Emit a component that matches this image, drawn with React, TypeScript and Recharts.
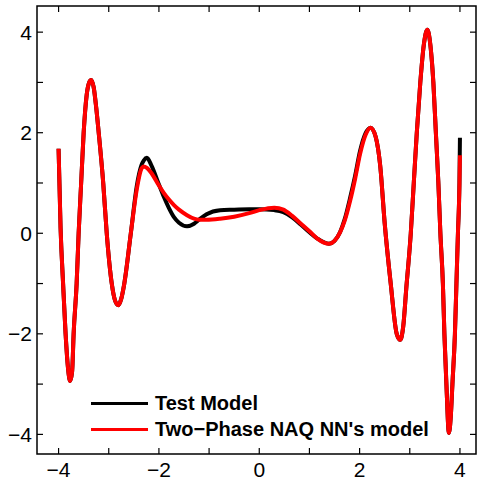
import React from "react";
import { Line, LineChart, ReferenceArea, XAxis, YAxis } from "recharts";

const xs = [
  -4.0, -3.96, -3.91, -3.86, -3.81, -3.77, -3.73, -3.7, -3.64, -3.6, -3.55, -3.5, -3.44,
  -3.39, -3.35, -3.3, -3.25, -3.2, -3.11, -3.04, -2.94, -2.87, -2.81, -2.75, -2.69, -2.56,
  -2.44, -2.35, -2.3, -2.24, -2.15, -2.0, -1.9, -1.8, -1.7, -1.6, -1.44, -1.3, -1.2, -1.05,
  -0.78, -0.5, -0.2, 0.0, 0.3, 0.48, 0.65, 0.82, 1.0, 1.15, 1.39, 1.5, 1.61, 1.7, 1.81, 1.91,
  2.01, 2.12, 2.22, 2.32, 2.41, 2.5, 2.62, 2.74, 2.81, 2.87, 2.93, 3.02, 3.08, 3.14, 3.21,
  3.28, 3.35, 3.41, 3.47, 3.52, 3.57, 3.61, 3.66, 3.69, 3.73, 3.78, 3.82, 3.85, 3.9, 3.93,
  3.96, 3.99, 4.0,
];

const testModel = [
  1.68, 0.1, -1.0, -2.0, -2.7, -2.94, -2.75, -2.0, -1.0, 0.0, 1.0, 2.0, 2.75,
  3.0, 3.05, 2.9, 2.5, 2.0, 1.0, 0.0, -1.0, -1.35, -1.43, -1.3, -1.0, 0.0,
  0.95, 1.35, 1.45, 1.5, 1.35, 0.97, 0.72, 0.5, 0.32, 0.21, 0.14, 0.19, 0.27, 0.38,
  0.46, 0.47, 0.48, 0.48, 0.46, 0.42, 0.32, 0.18, 0.02, -0.1, -0.21, -0.15, 0.02, 0.27, 0.7, 1.14,
  1.64, 1.99, 2.1, 1.92, 1.35, 0.2, -1.0, -2.0, -2.12, -1.85, -1.1, 0.0, 1.0, 2.0, 3.0,
  3.75, 4.05, 3.75, 3.0, 2.0, 1.0, 0.0, -1.0, -2.0, -3.0, -3.97, -3.6, -3.0, -2.0, -1.0,
  0.0, 1.0, 1.9,
];

const naqModel = [
  1.68, 0.1, -1.0, -2.0, -2.7, -2.94, -2.75, -2.0, -1.0, 0.0, 1.0, 2.0, 2.75,
  3.0, 3.05, 2.9, 2.5, 2.0, 1.0, 0.0, -1.0, -1.35, -1.43, -1.3, -1.0, 0.0,
  0.88, 1.28, 1.33, 1.3, 1.2, 0.95, 0.8, 0.67, 0.56, 0.47, 0.36, 0.29, 0.27, 0.27,
  0.29, 0.33, 0.4, 0.46, 0.51, 0.47, 0.35, 0.2, 0.04, -0.1, -0.21, -0.15, 0.02, 0.24, 0.64, 1.08,
  1.58, 1.96, 2.1, 1.92, 1.35, 0.2, -1.0, -2.0, -2.12, -1.85, -1.1, 0.0, 1.0, 2.0, 3.0,
  3.75, 4.05, 3.75, 3.0, 2.0, 1.0, 0.0, -1.0, -2.0, -3.0, -3.97, -3.6, -3.0, -2.0, -1.0,
  0.0, 0.95, 1.55,
];

const xTicks = [-4, -3, -2, -1, 0, 1, 2, 3, 4];
const yTicks = [-4, -3, -2, -1, 0, 1, 2, 3, 4];
const seriesNames = ["Test Model", "Two\u2212Phase NAQ NN's model"];
const seriesColors = ["#000000", "#ff0000"];

const X_DOMAIN: [number, number] = [-4.43, 4.32];
const Y_DOMAIN: [number, number] = [-4.39, 4.52];

const W = 480;
const H = 480;
const M = { top: 6, right: 4, left: 0, bottom: 0 };
const Y_AXIS_W = 37;
const X_AXIS_H = 26;
const PLOT_TOP = M.top;
const PLOT_RIGHT = W - M.right;
const TICK = 6;
const FONT = "'Liberation Sans', Arial, sans-serif";

const data = xs.map((x, i) => ({ x, test: testModel[i], naq: naqModel[i] }));

const fmt = (v: number) => (v < 0 ? `\u2212${Math.abs(v)}` : `${v}`);

function XTick(props: any) {
  const { x, y, payload } = props;
  const v = payload.value as number;
  return (
    <g>
      <line x1={x} x2={x} y1={y} y2={y - TICK} stroke="#000" strokeWidth={1.2} />
      <line x1={x} x2={x} y1={PLOT_TOP} y2={PLOT_TOP + TICK} stroke="#000" strokeWidth={1.2} />
      {v % 2 === 0 && (
        <text x={x} y={y + 23} textAnchor="middle" fontSize={21} fontFamily={FONT} fill="#000">
          {fmt(v)}
        </text>
      )}
    </g>
  );
}

function YTick(props: any) {
  const { x, y, payload } = props;
  const v = payload.value as number;
  return (
    <g>
      <line x1={x} x2={x + TICK} y1={y} y2={y} stroke="#000" strokeWidth={1.2} />
      <line x1={PLOT_RIGHT} x2={PLOT_RIGHT - TICK} y1={y} y2={y} stroke="#000" strokeWidth={1.2} />
      {v % 2 === 0 && (
        <text x={x - 5} y={y + 7.5} textAnchor="end" fontSize={21} fontFamily={FONT} fill="#000">
          {fmt(v)}
        </text>
      )}
    </g>
  );
}

export default function App() {
  return (
    <div style={{ position: "absolute", left: 0, top: 0, width: W, height: H, background: "#fff" }}>
      <LineChart width={W} height={H} data={data} margin={M}>
        <XAxis
          dataKey="x"
          type="number"
          domain={X_DOMAIN}
          ticks={xTicks}
          allowDataOverflow
          axisLine={false}
          tickLine={false}
          tickSize={0}
          tickMargin={0}
          height={X_AXIS_H}
          tick={<XTick />}
          interval={0}
        />
        <YAxis
          type="number"
          domain={Y_DOMAIN}
          ticks={yTicks}
          allowDataOverflow
          axisLine={false}
          tickLine={false}
          tickSize={0}
          tickMargin={0}
          width={Y_AXIS_W}
          tick={<YTick />}
          interval={0}
        />
        <ReferenceArea
          x1={X_DOMAIN[0]}
          x2={X_DOMAIN[1]}
          y1={Y_DOMAIN[0]}
          y2={Y_DOMAIN[1]}
          fill="none"
          stroke="#000"
          strokeWidth={1.5}
          fillOpacity={0}
        />
        <Line
          dataKey="test"
          type="monotone"
          stroke={seriesColors[0]}
          strokeWidth={4}
          dot={false}
          isAnimationActive={false}
        />
        <Line
          dataKey="naq"
          type="monotone"
          stroke={seriesColors[1]}
          strokeWidth={4}
          dot={false}
          isAnimationActive={false}
        />
      </LineChart>
      <div style={{ position: "absolute", left: 91, top: 390, fontFamily: FONT }}>
        {seriesNames.map((name, i) => (
          <div key={name} style={{ display: "flex", alignItems: "center", height: 26 }}>
            <div style={{ width: 57, height: 3, background: seriesColors[i], marginRight: 7 }} />
            <span style={{ fontSize: 20, fontWeight: "bold", color: "#000", lineHeight: "26px" }}>
              {name}
            </span>
          </div>
        ))}
      </div>
    </div>
  );
}
